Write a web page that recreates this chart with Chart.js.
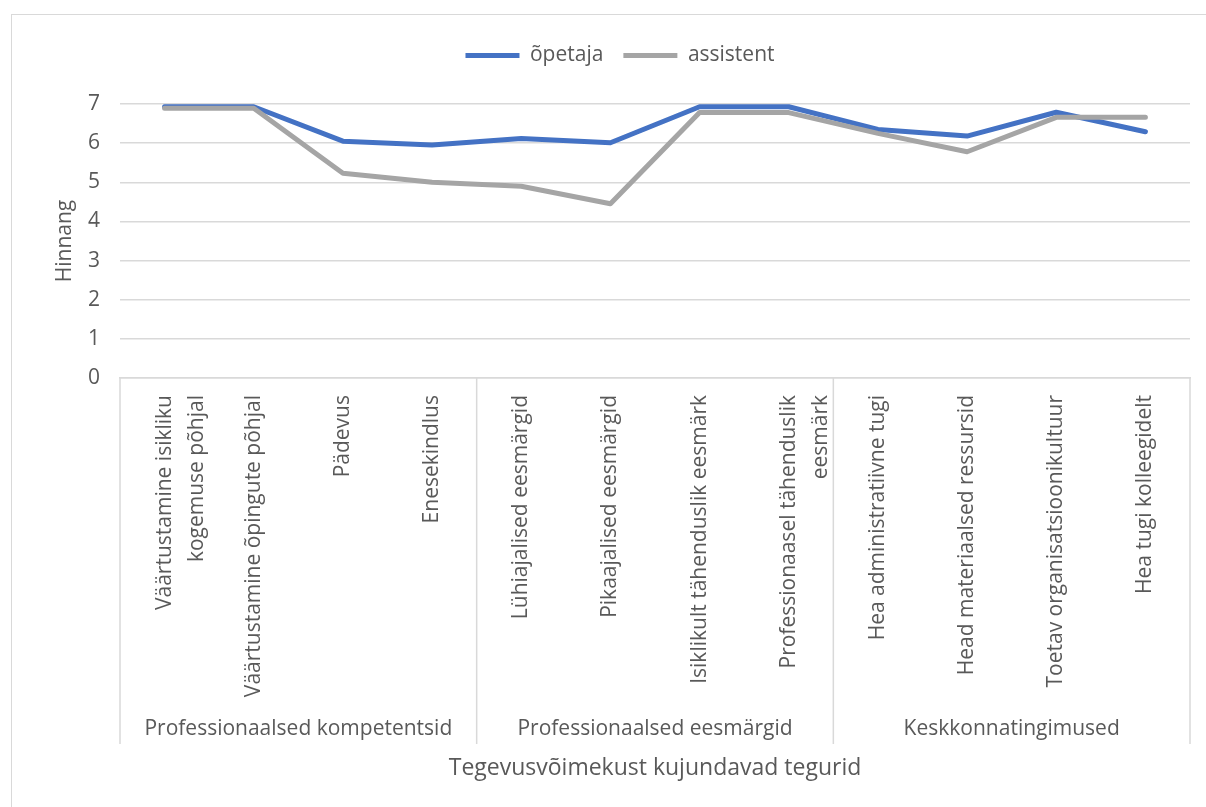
<!DOCTYPE html>
<html>
<head>
<meta charset="utf-8">
<script src="https://cdn.jsdelivr.net/npm/chart.js@4.4.1/dist/chart.umd.min.js"></script>
<style>
  body{margin:0;background:#fff;}
  #wrap{position:relative;width:1206px;height:807px;overflow:hidden;}
  #frame{position:absolute;left:11px;top:14px;width:1300px;height:900px;border:1.5px solid #d9d9d9;box-sizing:border-box;}
  #chart{position:absolute;left:0;top:0;}
</style>
</head>
<body>
<div id="wrap">
  <div id="frame"></div>
  <canvas id="chart" width="1206" height="807"></canvas>
</div>
<script>
// ===== DATA =====
const categories = [
  ["Väärtustamine isikliku", "kogemuse põhjal"],
  "Väärtustamine õpingute põhjal",
  "Pädevus",
  "Enesekindlus",
  "Lühiajalised eesmärgid",
  "Pikaajalised eesmärgid",
  "Isiklikult tähenduslik eesmärk",
  ["Professionaasel tähenduslik", "eesmärk"],
  "Hea administratiivne tugi",
  "Head materiaalsed ressursid",
  "Toetav organisatsioonikultuur",
  "Hea tugi kolleegidelt"
];
const groupNames = ["Professionaalsed kompetentsid", "Professionaalsed eesmärgid", "Keskkonnatingimused"];
const groupSizes = [4, 4, 4];

const opetaja   = [6.93, 6.93, 6.05, 5.95, 6.12, 6.01, 6.93, 6.93, 6.35, 6.18, 6.79, 6.29];
const assistent = [6.89, 6.89, 5.23, 5.00, 4.90, 4.45, 6.78, 6.78, 6.25, 5.78, 6.66, 6.66];

const yTicks = [0, 1, 2, 3, 4, 5, 6, 7];

// ===== STYLE =====
const FONT = "'Open Sans', sans-serif";
const TXT = "#595959";
const GRID = "#d9d9d9";
const BLUE = "#4472c4";
const GRAY = "#a5a5a5";

// legend sits higher than chart area, push plot down
const legendGap = {
  id: "legendGap",
  beforeInit(chart){
    const fit = chart.legend.fit;
    chart.legend.fit = function(){
      fit.bind(chart.legend)();
      this.height += 28;
    };
  }
};

// second level of category axis + separators
const groupAxis = {
  id: "groupAxis",
  afterDraw(chart){
    const ctx = chart.ctx;
    const x = chart.scales.x;
    const top = chart.chartArea.bottom;
    const bottom = 744;
    ctx.save();
    ctx.strokeStyle = GRID;
    ctx.lineWidth = 1.5;
    ctx.fillStyle = TXT;
    ctx.font = "21px " + FONT;
    ctx.textAlign = "center";
    ctx.textBaseline = "middle";
    let start = 0;
    const edges = [x.getPixelForValue(-0.5)];
    groupSizes.forEach((n, g)=>{
      const a = x.getPixelForValue(start - 0.5);
      const b = x.getPixelForValue(start + n - 0.5);
      edges.push(b);
      ctx.fillText(groupNames[g], (a + b) / 2, 729);
      start += n;
    });
    edges.forEach(px=>{
      ctx.beginPath();
      ctx.moveTo(px, top);
      ctx.lineTo(px, bottom);
      ctx.stroke();
    });
    ctx.restore();
  }
};

new Chart(document.getElementById("chart"), {
  type: "line",
  data: {
    labels: categories,
    datasets: [
      {
        label: "õpetaja",
        data: opetaja,
        borderColor: BLUE,
        backgroundColor: BLUE,
        borderWidth: 5,
        borderCapStyle: "round",
        borderJoinStyle: "round",
        pointRadius: 0,
        tension: 0,
        order: 1
      },
      {
        label: "assistent",
        data: assistent,
        borderColor: GRAY,
        backgroundColor: GRAY,
        borderWidth: 5,
        borderCapStyle: "round",
        borderJoinStyle: "round",
        pointRadius: 0,
        tension: 0,
        order: 0
      }
    ]
  },
  options: {
    responsive: false,
    animation: false,
    layout: { padding: { left: 50, right: 16, top: 25, bottom: 0 } },
    plugins: {
      tooltip: { enabled: false },
      legend: {
        position: "top",
        labels: {
          color: TXT,
          font: { family: FONT, size: 21 },
          usePointStyle: true,
          pointStyle: "line",
          pointStyleWidth: 54,
          boxHeight: 5,
          padding: 20,
          sort: (a, b)=>a.datasetIndex - b.datasetIndex
        }
      }
    },
    scales: {
      x: {
        offset: true,
        grid: { display: false, drawTicks: false },
        border: { display: true, color: GRID, width: 1.5 },
        ticks: {
          color: TXT,
          font: { family: FONT, size: 21, lineHeight: 1.55 },
          minRotation: 90,
          maxRotation: 90,
          autoSkip: false,
          padding: 17
        },
        title: {
          display: true,
          text: "Tegevusvõimekust kujundavad tegurid",
          color: TXT,
          font: { family: FONT, size: 23 },
          padding: { top: 0, bottom: 25 }
        },
        afterFit(scale){ scale.height = 807 - 378; }
      },
      y: {
        min: 0,
        max: 7,
        afterBuildTicks(scale){ scale.ticks = yTicks.map(v=>({ value: v })); },
        grid: { color: GRID, lineWidth: 1.5, drawTicks: false },
        border: { display: false },
        ticks: {
          color: TXT,
          font: { family: FONT, size: 21 },
          padding: 20
        },
        title: {
          display: true,
          text: "Hinnang",
          color: TXT,
          font: { family: FONT, size: 21 },
          padding: { top: 2, bottom: 0 }
        },
        afterFit(scale){ scale.width = 70; }
      }
    }
  },
  plugins: [legendGap, groupAxis]
});
</script>
</body>
</html>
